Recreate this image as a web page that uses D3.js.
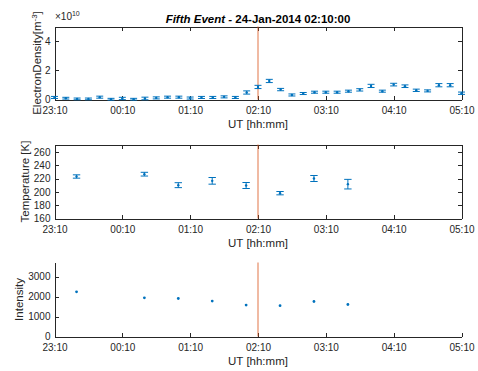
<!DOCTYPE html>
<html>
<head>
<meta charset="utf-8">
<script src="https://cdn.jsdelivr.net/npm/d3@7"></script>
<style>
  html, body { margin: 0; padding: 0; background: #fff; }
  svg { display: block; font-family: "Liberation Sans", Arial, Helvetica, sans-serif; }
  .tick text { fill: #262626; font-size: 10px; }
  .axis path, .axis line { stroke: #262626; }
</style>
</head>
<body>
<svg id="chart" width="478" height="371"></svg>
<script>
// ---- Data ----
const eventTime = "02:10";
const titleEvent = "Fifth Event - ";
const titleDate = "24-Jan-2014 02:10:00";

const xTickLabels = ["23:10", "00:10", "01:10", "02:10", "03:10", "04:10", "05:10"];

// Electron density, 10-minute samples (units of 1e10 m^-3)
const densityTimes = [
  "23:10","23:20","23:30","23:40","23:50","00:00","00:10","00:20","00:30","00:40",
  "00:50","01:00","01:10","01:20","01:30","01:40","01:50","02:00","02:10","02:20",
  "02:30","02:40","02:50","03:00","03:10","03:20","03:30","03:40","03:50","04:00",
  "04:10","04:20","04:30","04:40","04:50","05:00","05:10"
];
const densityValues = [
  0.14, 0.09, 0.04, 0.04, 0.16, 0.02, 0.07, 0.02, 0.07, 0.11,
  0.16, 0.16, 0.10, 0.14, 0.14, 0.18, 0.14, 0.48, 0.86, 1.27,
  0.68, 0.31, 0.41, 0.50, 0.50, 0.50, 0.57, 0.66, 0.93, 0.57,
  1.02, 0.91, 0.63, 0.59, 0.98, 0.98, 0.43
];
const densityErrors = [
  0.07, 0.06, 0.06, 0.06, 0.07, 0.06, 0.08, 0.06, 0.09, 0.07,
  0.07, 0.07, 0.07, 0.07, 0.07, 0.07, 0.07, 0.11, 0.11, 0.11,
  0.08, 0.07, 0.07, 0.07, 0.07, 0.07, 0.07, 0.08, 0.11, 0.07,
  0.09, 0.09, 0.08, 0.07, 0.11, 0.11, 0.08
];
const densityTicks = [0, 2, 4];

// Temperature and intensity, 30-minute samples
const sampleTimes = ["23:29:30","00:29:30","00:59:30","01:29:30","01:59:30","02:29:30","02:59:30","03:29:30"];
const temperatureValues = [223, 226.5, 210, 216.5, 209.5, 198, 220, 211.5];
const temperatureErrors = [2.5, 2.8, 3.7, 5, 4.5, 2.5, 4.5, 7.2];
const temperatureTicks = [160, 180, 200, 220, 240, 260];

const intensityValues = [2235, 1935, 1900, 1770, 1570, 1540, 1750, 1600];
const intensityTicks = [0, 1000, 2000, 3000];

// ---- Helpers ----
// Times after noon belong to 23-Jan, the rest to 24-Jan
function parseUT(s) {
  const p = s.split(":").map(Number);
  const day = p[0] >= 12 ? 23 : 24;
  return new Date(Date.UTC(2014, 0, day, p[0], p[1], p[2] || 0));
}

const blue = "#0072BD";
const red = "#D95319";
const ink = "#262626";
const svg = d3.select("#chart");

const x = d3.scaleUtc()
  .domain([parseUT("23:10"), parseUT("05:10")])
  .range([54.5, 461.5]);
const xTickValues = xTickLabels.map(parseUT);
const fmt = d3.utcFormat("%H:%M");

function panel(opts) {
  const y = d3.scaleLinear().domain(opts.domain).range([opts.bottom, opts.top]);
  const g = svg.append("g");

  // bottom axis
  g.append("g").attr("class", "axis")
    .attr("transform", `translate(0,${opts.bottom})`)
    .call(d3.axisBottom(x).tickValues(xTickValues).tickFormat(fmt)
      .tickSizeInner(-4).tickSizeOuter(0).tickPadding(7))
    .call(a => a.selectAll("text").attr("dy", "0.71em"));
  // left axis
  g.append("g").attr("class", "axis")
    .attr("transform", `translate(${x.range()[0]},0)`)
    .call(d3.axisLeft(y).tickValues(opts.ticks).tickFormat(opts.tickFormat || d3.format("d"))
      .tickSizeInner(-4).tickSizeOuter(0).tickPadding(4));

  if (opts.box) {
    g.append("g").attr("class", "axis")
      .attr("transform", `translate(0,${opts.top})`)
      .call(d3.axisTop(x).tickValues(xTickValues).tickFormat("")
        .tickSizeInner(-4).tickSizeOuter(0));
    g.append("g").attr("class", "axis")
      .attr("transform", `translate(${x.range()[1]},0)`)
      .call(d3.axisRight(y).tickValues(opts.ticks).tickFormat("")
        .tickSizeInner(-4).tickSizeOuter(0));
  }
  g.selectAll(".axis path, .axis line").attr("shape-rendering", "crispEdges");

  // event marker
  g.append("line")
    .attr("x1", x(parseUT(eventTime))).attr("x2", x(parseUT(eventTime)))
    .attr("y1", opts.top).attr("y2", opts.bottom)
    .attr("stroke", red).attr("stroke-opacity", 0.8).attr("stroke-width", 1);

  // x label
  g.append("text")
    .attr("x", (x.range()[0] + x.range()[1]) / 2)
    .attr("y", opts.bottom + 28.3)
    .attr("text-anchor", "middle")
    .attr("font-size", "11.5px").attr("fill", ink)
    .text("UT [hh:mm]");

  // y label
  const yl = g.append("text")
    .attr("transform", `translate(${opts.labelX},${(opts.top + opts.bottom) / 2}) rotate(-90)`)
    .attr("text-anchor", "middle")
    .attr("font-size", "11.5px").attr("fill", ink);
  opts.label(yl);

  return { g, y };
}

function errorBars(g, y, times, values, errors, cap) {
  const pts = times.map((t, i) => ({ t: parseUT(t), v: values[i], e: errors[i] }));
  const eb = g.append("g").attr("stroke", blue).attr("stroke-width", 1).attr("fill", "none");
  eb.selectAll("line.v").data(pts).join("line").attr("class", "v")
    .attr("x1", d => x(d.t)).attr("x2", d => x(d.t))
    .attr("y1", d => y(d.v - d.e)).attr("y2", d => y(d.v + d.e));
  eb.selectAll("line.lo").data(pts).join("line").attr("class", "lo")
    .attr("x1", d => x(d.t) - cap).attr("x2", d => x(d.t) + cap)
    .attr("y1", d => y(d.v - d.e)).attr("y2", d => y(d.v - d.e));
  eb.selectAll("line.hi").data(pts).join("line").attr("class", "hi")
    .attr("x1", d => x(d.t) - cap).attr("x2", d => x(d.t) + cap)
    .attr("y1", d => y(d.v + d.e)).attr("y2", d => y(d.v + d.e));
  g.append("g").selectAll("circle").data(pts).join("circle")
    .attr("cx", d => x(d.t)).attr("cy", d => y(d.v)).attr("r", 1.2).attr("fill", blue);
}

// ---- Panel 1: electron density ----
const p1 = panel({
  top: 26.5, bottom: 99.5, domain: [0, 5], ticks: densityTicks, box: true, labelX: 41,
  label: t => {
    t.append("tspan").text("ElectronDensity[m");
    t.append("tspan").attr("font-size", "8px").attr("dy", "-4").text("-3");
    t.append("tspan").attr("dy", "4").text("]");
  }
});
errorBars(p1.g, p1.y, densityTimes, densityValues, densityErrors, 3.5);

// exponent label
const ex = svg.append("text").attr("x", 55).attr("y", 20).attr("font-size", "10px").attr("fill", ink);
ex.append("tspan").text("\u00d710");
ex.append("tspan").attr("font-size", "7px").attr("dy", "-4").text("10");

// title
const title = svg.append("text")
  .attr("x", (x.range()[0] + x.range()[1]) / 2).attr("y", 22.5)
  .attr("text-anchor", "middle").attr("font-size", "11.5px")
  .attr("font-weight", "bold").attr("fill", "#000");
title.append("tspan").attr("font-style", "italic").text(titleEvent);
title.append("tspan").text(titleDate);

// ---- Panel 2: temperature ----
const p2 = panel({
  top: 144.5, bottom: 218.5, domain: [160, 271], ticks: temperatureTicks, box: true, labelX: 29,
  label: t => t.text("Temperature [K]")
});
errorBars(p2.g, p2.y, sampleTimes, temperatureValues, temperatureErrors, 3.7);

// ---- Panel 3: intensity ----
const p3 = panel({
  top: 262.5, bottom: 336.5, domain: [0, 3700], ticks: intensityTicks, box: false, labelX: 23,
  label: t => t.text("Intensity")
});
p3.g.append("g").selectAll("circle")
  .data(sampleTimes.map((t, i) => ({ t: parseUT(t), v: intensityValues[i] })))
  .join("circle")
  .attr("cx", d => x(d.t)).attr("cy", d => p3.y(d.v)).attr("r", 1.4).attr("fill", blue);
</script>
</body>
</html>
